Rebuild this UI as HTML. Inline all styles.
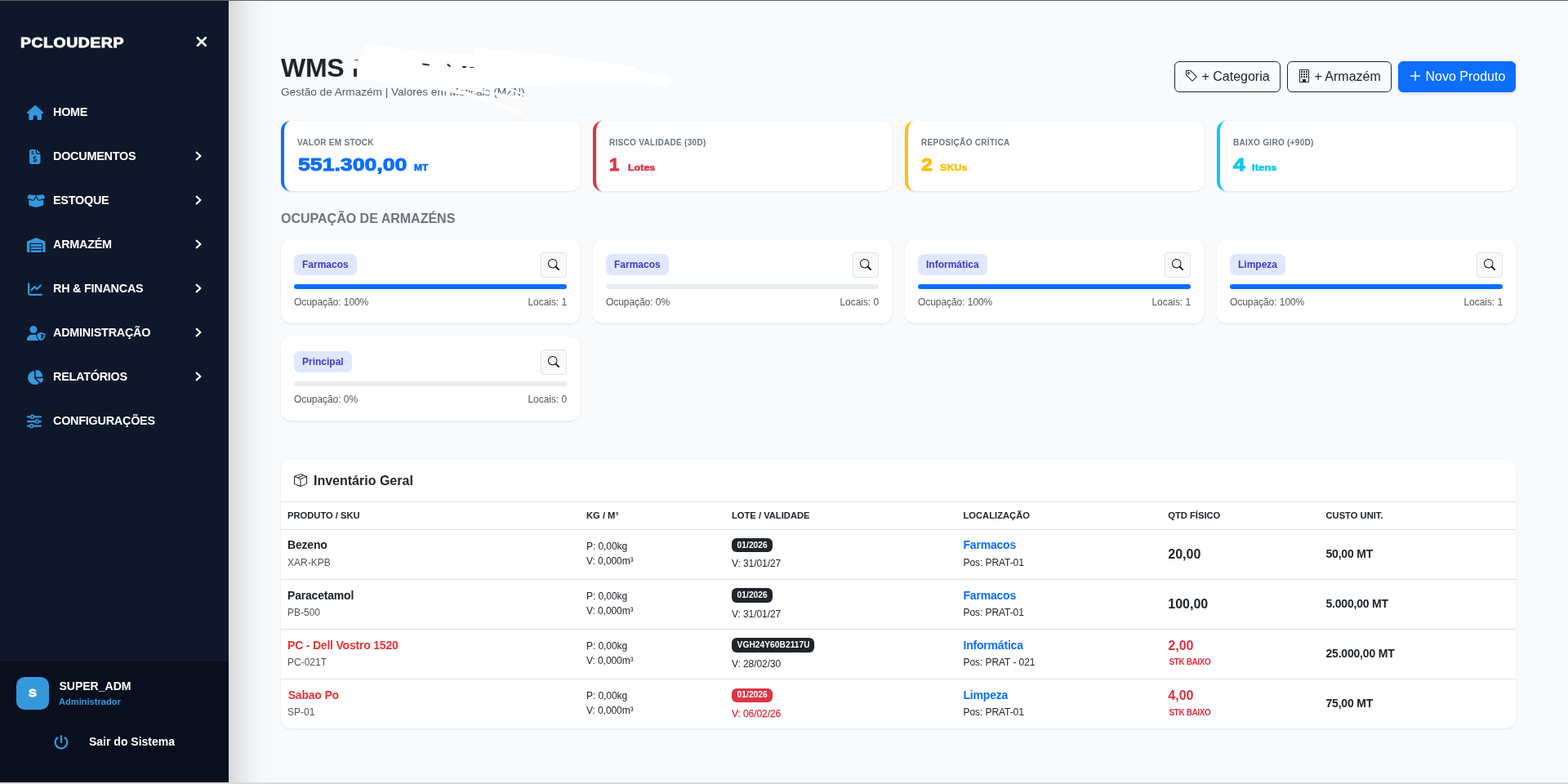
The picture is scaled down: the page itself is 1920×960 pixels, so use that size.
<!DOCTYPE html>
<html lang="pt">
<head>
<meta charset="utf-8">
<title>WMS - Gestão de Armazém</title>
<style>
*{box-sizing:border-box;margin:0;padding:0}
html,body{width:1920px;height:960px;overflow:hidden}
body{font-family:"Liberation Sans",Arial,sans-serif;font-size:16px;color:#212529;background:#f8fafc;position:relative;line-height:1.5}
.a{position:absolute;white-space:nowrap}
.b{font-weight:bold}
.topline{position:absolute;left:0;top:0;width:1920px;height:1px;background:#636363;z-index:50}
.botline{position:absolute;left:0;top:958px;width:1920px;height:2px;background:#d9d9d9;z-index:50}
/* sidebar */
.sidebar{position:absolute;left:0;top:-60px;width:280px;height:1080px;background:#0f172a;box-shadow:10px 0 40px rgba(0,0,0,.19)}
.side{position:absolute;left:0;top:0;width:280px;height:960px;color:#fff}
.brand{left:25px;top:42.4px;font-size:16.8px;font-weight:bold;color:#fff;line-height:22px;letter-spacing:.5px;-webkit-text-stroke:.8px #fff;transform-origin:0 50%;transform:scaleX(1.155)}
.nl{left:65px;font-size:14.4px;font-weight:bold;color:#fff;line-height:20px;letter-spacing:-.24px}
.sfoot{position:absolute;left:0;top:808px;width:280px;height:152px;background:#0a0f1d;border-top:1px solid #171c2a}
.avatar{position:absolute;left:20px;top:829px;width:40px;height:40px;border-radius:10px;background:#3498db}
.avs{left:20px;top:829.3px;width:40px;text-align:center;font-size:13.2px;font-weight:bold;line-height:40px;color:#fff;-webkit-text-stroke:.8px #fff;transform:scaleX(1.12)}
.uname{left:72.5px;top:831px;font-size:14px;font-weight:bold;color:#fff;line-height:18px}
.urole{left:72px;top:852px;font-size:11.1px;font-weight:bold;color:#3498db;line-height:14px}
.logout{left:109px;top:898px;font-size:14px;font-weight:bold;color:#fff;line-height:20px}
/* main */
h1{position:absolute;left:344px;top:64px;font-size:32px;font-weight:bold;line-height:38px;color:#212529;letter-spacing:-.3px}
.sub{left:344px;top:102px;font-size:13.6px;color:#555b61;line-height:21px}
.btn{position:absolute;top:75px;height:38px;border-radius:6px;border:1px solid #212529}
.btn.primary{background:#0d6efd;border-color:#0d6efd;box-shadow:0 2px 5px rgba(0,0,0,.1)}
.bt{top:82px;font-size:16px;line-height:24px;color:#212529}
.card{position:absolute;background:#fff;border-radius:12px;box-shadow:0 1px 3px rgba(0,0,0,.065),0 1px 2px rgba(0,0,0,.035)}
.kpi{top:148px;width:366px;height:86px;border-left:4px solid #0d6efd}
.kt{top:168px;font-size:10px;font-weight:bold;color:#6c757d;line-height:14px;letter-spacing:.3px}
.kv{top:184.9px;font-size:22.4px;font-weight:bold;line-height:34px;-webkit-text-stroke:.9px currentColor;transform-origin:0 50%;transform:scaleX(1.19)}
.ku{top:196.8px;font-size:10.4px;font-weight:bold;line-height:17px;-webkit-text-stroke:.5px currentColor;transform-origin:0 50%;transform:scaleX(1.15)}
.sect{left:344px;top:256px;font-size:16px;font-weight:bold;color:#6c757d;line-height:24px}
.wh{width:366px;height:103px}
.tag{position:absolute;height:25.5px;border-radius:7px;background:#e0e7ff}
.tagt{font-size:12px;font-weight:bold;color:#4338ca;line-height:18px}
.sb{position:absolute;width:32px;height:31px;border:1px solid #dee2e6;border-radius:4px;background:#f8f9fa}
.bar{position:absolute;width:334px;height:6px;border-radius:3px;background:#e9ecef}
.bar.full{background:#0d6efd}
.wt{font-size:12px;color:#555;line-height:18px;letter-spacing:-.06px}
.inv{left:344px;top:563px;width:1512px;height:329px}
.hl{position:absolute;left:344px;width:1512px;height:1px;background:#dee2e6}
.it{left:384px;top:577px;font-size:16px;font-weight:bold;line-height:24px;color:#212529}
.th{top:623px;font-size:11.2px;font-weight:bold;color:#212529;line-height:17px}
.c1{left:352px}.c2{left:718px}.c3{left:896px}.c4{left:1179.5px}.c5{left:1430.3px}.c6{left:1623.5px}
.nm{font-size:14px;font-weight:bold;line-height:20px;color:#212529;letter-spacing:-.2px}
.sku{font-size:12px;color:#555;line-height:18px}
.p{font-size:12px;color:#212529;line-height:18px;letter-spacing:-.07px}
.lot{position:absolute;left:896px;height:17.3px;border-radius:6px;background:#212529}
.lott{color:#fff;font-size:10.2px;font-weight:bold;line-height:17px;letter-spacing:.05px}
.loc{font-size:14px;font-weight:bold;color:#0d6efd;line-height:20px;letter-spacing:-.2px}
.q{font-size:16px;font-weight:bold;line-height:24px;color:#212529}
.stk{font-size:10px;font-weight:bold;color:#de2f40;line-height:12px;letter-spacing:-.42px}
.cost{font-size:14px;font-weight:bold;line-height:20px;color:#212529;letter-spacing:-.2px}
.red{color:#de2f40}
.nm.red{color:#ea3434}
.p.red{-webkit-text-stroke:.25px #de2f40}
</style>
</head>
<body>
<div class="sidebar"></div>
<div class="side">
<div class="a brand" id="brand">PCLOUDERP</div>
<svg class="a" style="left:236px;top:40px;width:22px;height:22px" viewBox="236 40 22 22"><path d="M241.9 46.2 L251.8 55.7 M251.8 46.2 L241.9 55.7" fill="none" stroke="#fff" stroke-width="2.7" stroke-linecap="round"/></svg>
<svg style="position:absolute;left:33.00px;top:129.00px;width:20.25px;height:18.00px;" viewBox="0 0 576 512" preserveAspectRatio="none"><path fill="#3498db" d="M575.8 255.5c0 18-15 32.1-32 32.1h-32l.7 160.2c0 2.700-.2 5.400-.5 8.100V472c0 22.100-17.900 40-40 40H456c-1.100 0-2.200 0-3.300-.1c-1.400 .1-2.800 .1-4.200 .1H416 392c-22.100 0-40-17.900-40-40V448 384c0-17.700-14.300-32-32-32H256c-17.700 0-32 14.300-32 32v64 24c0 22.100-17.900 40-40 40H160 128.100c-1.500 0-3-.1-4.500-.2c-1.200 .1-2.400 .2-3.600 .2H104c-22.100 0-40-17.900-40-40V360c0-.9 0-1.900 .1-2.800V287.600H32c-18 0-32-14-32-32.100c0-9 3-17 10-24L266.400 8c7-7 15-8 22-8s15 2 21 7L564.800 231.500c8 7 12 15 11 24z"/></svg>
<div class="a nl" id="nl0" style="top:127px">HOME</div>
<svg style="position:absolute;left:36.25px;top:183.00px;width:13.50px;height:18.00px;" viewBox="0 0 384 512" preserveAspectRatio="none"><path fill="#3498db" d="M64 0C28.700 0 0 28.700 0 64V448c0 35.300 28.700 64 64 64H320c35.300 0 64-28.700 64-64V160H256c-17.700 0-32-14.300-32-32V0H64zM256 0V128H384L256 0zM64 80c0-8.800 7.200-16 16-16h64c8.800 0 16 7.200 16 16s-7.200 16-16 16H80c-8.800 0-16-7.200-16-16zm0 64c0-8.800 7.200-16 16-16h64c8.800 0 16 7.200 16 16s-7.200 16-16 16H80c-8.800 0-16-7.200-16-16zm128 72c8.800 0 16 7.200 16 16v17.300c8.500 1.200 16.700 3.100 24.100 5.100c8.500 2.300 13.600 11 11.300 19.600s-11 13.600-19.600 11.300c-11.100-3-22-5.200-32.100-5.300c-8.400-.1-17.400 1.800-23.600 5.500c-5.700 3.400-8.100 7.300-8.100 12.800c0 3.700 1.300 6.500 7.300 10.100c6.900 4.100 16.600 7.100 29.200 10.900l.5 .1 0 0 0 0c11.300 3.400 25.300 7.600 36.300 14.600c12.100 7.600 22.400 19.700 22.700 38.200c.3 19.300-9.600 33.300-22.900 41.600c-7.700 4.800-16.400 7.600-25.100 9.100V440c0 8.800-7.200 16-16 16s-16-7.200-16-16V422.200c-11.200-2.100-21.700-5.700-30.900-8.900l0 0c-2.100-.7-4.200-1.400-6.200-2.100c-8.400-2.800-12.900-11.900-10.100-20.200s11.900-12.900 20.200-10.100c2.500 .8 4.800 1.600 7.100 2.400l0 0 0 0 0 0c13.600 4.600 24.600 8.400 36.300 8.700c9.100 .3 17.900-1.700 23.700-5.300c5.100-3.200 7.900-7.300 7.800-14c-.1-4.600-1.800-7.800-7.700-11.600c-6.800-4.300-16.500-7.400-29-11.200l-1.600-.5 0 0c-11-3.300-24.300-7.300-34.800-13.700c-12-7.200-22.600-18.900-22.700-37.300c-.1-19.400 10.800-32.800 23.800-40.500c7.500-4.400 15.800-7.200 24.100-8.700V232c0-8.800 7.200-16 16-16z"/></svg>
<div class="a nl" id="nl1" style="top:181px">DOCUMENTOS</div>
<svg class="a" style="left:236px;top:182.65px;width:14px;height:16px" viewBox="0 0 14 16"><path d="M4.65 3.65 L9.45 8 L4.65 12.35" fill="none" stroke="#fff" stroke-width="2.1" stroke-linecap="round" stroke-linejoin="round"/></svg>
<svg style="position:absolute;left:33.00px;top:237.00px;width:22.50px;height:18.00px;" viewBox="0 0 640 512" preserveAspectRatio="none"><path fill="#3498db" d="M58.900 42.100c3-6.100 9.600-9.600 16.300-8.700L320 64 564.800 33.400c6.700-.8 13.300 2.700 16.300 8.700l41.700 83.400c9 17.900-.6 39.600-19.800 45.100L439.600 217.300c-13.900 4-28.800-1.900-36.200-14.300L320 64 236.600 203c-7.400 12.400-22.300 18.300-36.200 14.300L37.100 170.600c-19.300-5.500-28.800-27.200-19.800-45.100L58.900 42.100zM321.100 128l54.900 91.400c14.900 24.800 44.600 36.600 72.500 28.600L576 211.600v167c0 22-15 41.200-36.400 46.600l-204.100 51c-10.200 2.600-20.900 2.600-31 0l-204.100-51C79 419.700 64 400.500 64 378.500v-167L191.600 248c27.800 8 57.600-3.800 72.500-28.600L318.900 128h2.200z"/></svg>
<div class="a nl" id="nl2" style="top:235px">ESTOQUE</div>
<svg class="a" style="left:236px;top:236.65px;width:14px;height:16px" viewBox="0 0 14 16"><path d="M4.65 3.65 L9.45 8 L4.65 12.35" fill="none" stroke="#fff" stroke-width="2.1" stroke-linecap="round" stroke-linejoin="round"/></svg>
<svg style="position:absolute;left:33.00px;top:291.00px;width:22.50px;height:18.00px;" viewBox="0 0 640 512" preserveAspectRatio="none"><path fill="#3498db" d="M0 488V171.300c0-26.200 15.900-49.700 40.200-59.400L308.100 4.800c7.600-3.100 16.100-3.100 23.800 0L599.800 111.900c24.300 9.700 40.200 33.300 40.200 59.400V488c0 13.300-10.700 24-24 24H568c-13.300 0-24-10.700-24-24V224c0-17.700-14.300-32-32-32H128c-17.700 0-32 14.300-32 32V488c0 13.300-10.700 24-24 24H24c-13.300 0-24-10.700-24-24zm488 24l-336 0c-13.300 0-24-10.700-24-24V432H512l0 56c0 13.300-10.700 24-24 24zM128 400V336H512v64H128zm0-96V224H512l0 80H128z"/></svg>
<div class="a nl" id="nl3" style="top:289px">ARMAZÉM</div>
<svg class="a" style="left:236px;top:290.65px;width:14px;height:16px" viewBox="0 0 14 16"><path d="M4.65 3.65 L9.45 8 L4.65 12.35" fill="none" stroke="#fff" stroke-width="2.1" stroke-linecap="round" stroke-linejoin="round"/></svg>
<svg style="position:absolute;left:34.00px;top:345.00px;width:18.00px;height:18.00px;" viewBox="0 0 512 512" preserveAspectRatio="none"><path fill="#3498db" d="M64 64c0-17.700-14.300-32-32-32S0 46.300 0 64V400c0 44.200 35.800 80 80 80H480c17.700 0 32-14.300 32-32s-14.300-32-32-32H80c-8.800 0-16-7.200-16-16V64zm406.600 86.600c12.500-12.500 12.500-32.800 0-45.300s-32.800-12.500-45.300 0L320 210.700l-57.400-57.400c-12.500-12.500-32.800-12.500-45.300 0l-112 112c-12.500 12.500-12.500 32.800 0 45.300s32.800 12.500 45.300 0L240 221.300l57.400 57.400c12.500 12.500 32.800 12.500 45.300 0l128-128z"/></svg>
<div class="a nl" id="nl4" style="top:343px">RH &amp; FINANCAS</div>
<svg class="a" style="left:236px;top:344.65px;width:14px;height:16px" viewBox="0 0 14 16"><path d="M4.65 3.65 L9.45 8 L4.65 12.35" fill="none" stroke="#fff" stroke-width="2.1" stroke-linecap="round" stroke-linejoin="round"/></svg>
<svg style="position:absolute;left:33.00px;top:399.00px;width:22.50px;height:18.00px;" viewBox="0 0 640 512" preserveAspectRatio="none"><path fill="#3498db" d="M224 256A128 128 0 1 0 224 0a128 128 0 1 0 0 256zm-45.7 48C79.8 304 0 383.8 0 482.3C0 498.700 13.300 512 29.700 512H418.300c1.800 0 3.500-.2 5.300-.5c-76.300-55.100-99.800-141-103.100-200.200c-16.100-4.800-33.100-7.300-50.700-7.300H178.300zm308.800-78.300l-120 48C358 277.400 352 286.200 352 296c0 63.300 25.900 168.800 134.800 214.200c5.900 2.500 12.600 2.500 18.500 0C614.100 464.800 640 359.300 640 296c0-9.800-6-18.600-15.100-22.300l-120-48c-5.700-2.300-12.100-2.300-17.800 0zM591.400 312c-3.900 50.700-27.200 116.700-95.400 149.700V273.800L591.400 312z"/></svg>
<div class="a nl" id="nl5" style="top:397px">ADMINISTRAÇÃO</div>
<svg class="a" style="left:236px;top:398.65px;width:14px;height:16px" viewBox="0 0 14 16"><path d="M4.65 3.65 L9.45 8 L4.65 12.35" fill="none" stroke="#fff" stroke-width="2.1" stroke-linecap="round" stroke-linejoin="round"/></svg>
<svg style="position:absolute;left:33.00px;top:453.00px;width:20.25px;height:18.00px;" viewBox="0 0 576 512" preserveAspectRatio="none"><path fill="#3498db" d="M304 240V16.600c0-9 7-16.600 16-16.600C443.700 0 544 100.300 544 224c0 9-7.600 16-16.600 16H304zM32 272C32 150.700 122.100 50.300 239 34.300c9.200-1.300 17 6.100 17 15.400V288L412.500 444.500c6.700 6.700 6.200 17.700-1.500 23.100C371.800 495.600 323.800 512 272 512C139.500 512 32 404.600 32 272zm526.400 16c9.300 0 16.600 7.800 15.400 17c-7.700 55.900-34.600 105.600-73.900 142.300c-6 5.600-15.400 5.200-21.200-.7L320 288H558.400z"/></svg>
<div class="a nl" id="nl6" style="top:451px">RELATÓRIOS</div>
<svg class="a" style="left:236px;top:452.65px;width:14px;height:16px" viewBox="0 0 14 16"><path d="M4.65 3.65 L9.45 8 L4.65 12.35" fill="none" stroke="#fff" stroke-width="2.1" stroke-linecap="round" stroke-linejoin="round"/></svg>
<svg style="position:absolute;left:33.00px;top:507.40px;width:18.00px;height:18.00px;" viewBox="0 0 512 512" preserveAspectRatio="none"><path fill="#3498db" d="M0 416c0 17.700 14.300 32 32 32l54.700 0c12.300 28.300 40.500 48 73.300 48s61-19.700 73.300-48L480 448c17.700 0 32-14.300 32-32s-14.300-32-32-32l-246.700 0c-12.300-28.300-40.500-48-73.300-48s-61 19.700-73.300 48L32 384c-17.700 0-32 14.300-32 32zm128 0a32 32 0 1 1 64 0 32 32 0 1 1 -64 0zM320 256a32 32 0 1 1 64 0 32 32 0 1 1 -64 0zm32-80c-32.800 0-61 19.700-73.300 48L32 224c-17.700 0-32 14.300-32 32s14.300 32 32 32l246.700 0c12.300 28.300 40.500 48 73.300 48s61-19.700 73.300-48l54.700 0c17.700 0 32-14.300 32-32s-14.300-32-32-32l-54.700 0c-12.300-28.300-40.500-48-73.300-48zM192 128a32 32 0 1 1 0-64 32 32 0 1 1 0 64zm73.300-64C253 35.700 224.800 16 192 16s-61 19.700-73.300 48L32 64C14.300 64 0 78.300 0 96s14.300 32 32 32l86.700 0c12.300 28.300 40.500 48 73.300 48s61-19.700 73.300-48L480 128c17.700 0 32-14.300 32-32s-14.300-32-32-32L265.300 64z"/></svg>
<div class="a nl" id="nl7" style="top:505px">CONFIGURAÇÕES</div>
<div class="sfoot"></div>
<div class="avatar"></div><div class="a avs" id="avs">S</div>
<div class="a uname" id="uname">SUPER_ADM</div>
<div class="a urole" id="urole">Administrador</div>
<svg style="position:absolute;left:66.20px;top:899.90px;width:18.00px;height:18.00px;" viewBox="0 0 512 512" preserveAspectRatio="none"><path fill="#3498db" d="M288 32c0-17.700-14.300-32-32-32s-32 14.300-32 32V256c0 17.700 14.300 32 32 32s32-14.300 32-32V32zM143.500 120.600c13.600-11.300 15.400-31.500 4.100-45.100s-31.500-15.400-45.100-4.100C49.700 115.400 16 181.800 16 256c0 132.500 107.500 240 240 240s240-107.500 240-240c0-74.200-33.800-140.600-86.600-184.600c-13.600-11.300-33.800-9.400-45.100 4.100s-9.400 33.800 4.100 45.100c38.900 32.300 63.500 81 63.500 135.400c0 97.200-78.800 176-176 176s-176-78.800-176-176c0-54.400 24.700-103.100 63.500-135.400z"/></svg>
<div class="a logout" id="logout">Sair do Sistema</div>
</div>
<h1 id="h1">WMS</h1>
<div class="a sub" id="sub">Gestão de Armazém | Valores em Meticais (MZN)</div>
<svg class="a" style="left:420px;top:40px;width:420px;height:110px" viewBox="420 40 420 110"><g fill="none" stroke="#fff" stroke-linecap="round" stroke-linejoin="round"><path stroke-width="13" d="M452 61 L520 70 L640 77 L760 89 L814 100"/><path stroke-width="9" d="M583 63 L680 72 L775 86"/><path stroke-width="5" d="M500 101 L570 114 L638 138"/><path stroke-width="3" d="M560 106 L600 114 L648 121"/><path stroke-width="2.5" d="M612 104 L644 117"/></g><path fill="#fff" d="M438 70 L460 66 L560 72 L700 80 L800 92 L816 100 L800 103 L700 102 L660 105.5 L600 107.3 L500 107 L470 101 L440 97 L438.5 94.5 L439 83 L436 82 L436 74.6 Z M441 70 L431 73 L430 80 L436 82 Z"/></svg>
<div class="a" style="left:433px;top:83.5px;width:4.2px;height:10px;background:#2b2f34;border-radius:0 0 1px 0"></div><div class="a" style="left:433.5px;top:73px;width:5px;height:1.4px;background:#3a3f44;border-radius:1px;transform:rotate(12deg)"></div><div class="a" style="left:517px;top:78px;width:9px;height:1.6px;background:#2a2e33;border-radius:1px;transform:rotate(8deg)"></div><div class="a" style="left:547px;top:78.5px;width:5px;height:2.4px;background:#2b2f34;border-radius:1px;transform:rotate(35deg)"></div><div class="a" style="left:566px;top:81px;width:5px;height:1.6px;background:#212529;border-radius:1px"></div><div class="a" style="left:575px;top:81.5px;width:5px;height:1.4px;background:#2a2e33;border-radius:1px"></div>
<div class="btn" style="left:1438px;width:130px"></div>
<svg style="position:absolute;left:1451.00px;top:85.10px;width:16px;height:16px;overflow:visible" viewBox="0 0 16 16"><path fill="#212529" fill-rule="evenodd" d="M6 4.500a1.500 1.500 0 1 1-3 0 1.500 1.500 0 0 1 3 0zm-1 0a.5.5 0 1 0-1 0 .5.5 0 0 0 1 0z M2 1h4.586a1 1 0 0 1 .707.293l7 7a1 1 0 0 1 0 1.414l-4.586 4.586a1 1 0 0 1-1.414 0l-7-7A1 1 0 0 1 1 6.586V2a1 1 0 0 1 1-1zm0 5.586 7 7L13.586 9l-7-7H2v4.586z"/></svg>
<div class="a bt" id="bt1" style="left:1471.45px">+ Categoria</div>
<div class="btn" style="left:1576px;width:128px"></div>
<svg style="position:absolute;left:1589.00px;top:85.10px;width:16px;height:16px;overflow:visible" viewBox="0 0 16 16"><path fill="#212529" fill-rule="evenodd" d="M4 2.500a.5.5 0 0 1 .5-.5h1a.5.5 0 0 1 .5.5v1a.5.5 0 0 1-.5.5h-1a.5.5 0 0 1-.5-.5v-1Zm3 0a.5.5 0 0 1 .5-.5h1a.5.5 0 0 1 .5.5v1a.5.5 0 0 1-.5.5h-1a.5.5 0 0 1-.5-.5v-1Zm3.500-.5a.5.5 0 0 0-.5.5v1a.5.5 0 0 0 .5.5h1a.5.5 0 0 0 .5-.5v-1a.5.5 0 0 0-.5-.5h-1ZM4 5.500a.5.5 0 0 1 .5-.5h1a.5.5 0 0 1 .5.5v1a.5.5 0 0 1-.5.5h-1a.5.5 0 0 1-.5-.5v-1ZM7.500 5a.5.5 0 0 0-.5.5v1a.5.5 0 0 0 .5.5h1a.5.5 0 0 0 .5-.5v-1a.5.5 0 0 0-.5-.5h-1Zm2.500.5a.5.5 0 0 1 .5-.5h1a.5.5 0 0 1 .5.5v1a.5.5 0 0 1-.5.5h-1a.5.5 0 0 1-.5-.5v-1ZM4.500 8a.5.5 0 0 0-.5.5v1a.5.5 0 0 0 .5.5h1a.5.5 0 0 0 .5-.5v-1a.5.5 0 0 0-.5-.5h-1Zm2.500.5a.5.5 0 0 1 .5-.5h1a.5.5 0 0 1 .5.5v1a.5.5 0 0 1-.5.5h-1a.5.5 0 0 1-.5-.5v-1Zm3.500-.5a.5.5 0 0 0-.5.5v1a.5.5 0 0 0 .5.5h1a.5.5 0 0 0 .5-.5v-1a.5.5 0 0 0-.5-.5h-1Z M2 1a1 1 0 0 1 1-1h10a1 1 0 0 1 1 1v14a1 1 0 0 1-1 1H3a1 1 0 0 1-1-1V1Zm11 0H3v14h3v-2.500a.5.5 0 0 1 .5-.5h3a.5.5 0 0 1 .5.5V15h3V1Z"/></svg>
<div class="a bt" id="bt2" style="left:1609.45px">+ Armazém</div>
<div class="btn primary" style="left:1712px;width:144px"></div>
<svg style="position:absolute;left:1725.00px;top:85.10px;width:16px;height:16px;overflow:visible" viewBox="0 0 16 16"><path fill="#fff" fill-rule="evenodd" stroke="#fff" stroke-width="0.45" d="M8 2a.5.5 0 0 1 .5.5v5h5a.5.5 0 0 1 0 1h-5v5a.5.5 0 0 1-1 0v-5h-5a.5.5 0 0 1 0-1h5v-5A.5.5 0 0 1 8 2Z"/></svg>
<div class="a bt" id="bt3" style="left:1745.45px;color:#fff">Novo Produto</div>
<div class="card kpi" style="left:344px;border-color:#0d6efd"></div>
<div class="a kt" id="kt0" style="left:364px">VALOR EM STOCK</div>
<div class="a kv" id="kv0" style="left:364.9px;color:#0d6efd;transform:scaleX(1.19)">551.300,00</div>
<div class="a ku" id="ku0" style="left:506.6px;color:#0d6efd;transform:scaleX(1.15)">MT</div>
<div class="card kpi" style="left:726px;border-color:#dc3545"></div>
<div class="a kt" id="kt1" style="left:746px">RISCO VALIDADE (30D)</div>
<div class="a kv" id="kv1" style="left:746.2px;color:#dc3545;transform:scaleX(.98)">1</div>
<div class="a ku" id="ku1" style="left:768.7px;color:#dc3545;transform:scaleX(1.2)">Lotes</div>
<div class="card kpi" style="left:1108px;border-color:#ffc107"></div>
<div class="a kt" id="kt2" style="left:1128px">REPOSIÇÃO CRÍTICA</div>
<div class="a kv" id="kv2" style="left:1128.2px;color:#ffc107;transform:scaleX(1.12)">2</div>
<div class="a ku" id="ku2" style="left:1150.7px;color:#ffc107;transform:scaleX(1.21)">SKUs</div>
<div class="card kpi" style="left:1490px;border-color:#0dcaf0"></div>
<div class="a kt" id="kt3" style="left:1510px">BAIXO GIRO (+90D)</div>
<div class="a kv" id="kv3" style="left:1510.2px;color:#0dcaf0;transform:scaleX(1.17)">4</div>
<div class="a ku" id="ku3" style="left:1533.2px;color:#0dcaf0;transform:scaleX(1.26)">Itens</div>
<div class="a sect" id="sect">OCUPAÇÃO DE ARMAZÉNS</div>
<div class="card wh" style="left:344px;top:293px"></div>
<div class="tag" style="left:360px;top:311px;width:77px"></div>
<div class="a tagt" id="tag0" style="left:370px;top:315px">Farmacos</div>
<div class="sb" style="left:662px;top:309px"></div>
<svg style="position:absolute;left:671.00px;top:317.00px;width:14px;height:14px;overflow:visible" viewBox="0 0 16 16"><path fill="#000" fill-rule="evenodd" d="M11.742 10.344a6.500 6.500 0 1 0-1.397 1.398h-.001c.03.04.062.078.098.115l3.850 3.850a1 1 0 0 0 1.415-1.414l-3.850-3.850a1.007 1.007 0 0 0-.115-.1zM12 6.500a5.500 5.500 0 1 1-11 0 5.500 5.500 0 0 1 11 0z"/></svg>
<div class="bar full" style="left:360px;top:348px"></div>
<div class="a wt" id="wl0" style="left:360px;top:361px">Ocupação: 100%</div>
<div class="a wt" id="wr0" style="right:1226px;top:361px">Locais: 1</div>
<div class="card wh" style="left:726px;top:293px"></div>
<div class="tag" style="left:742px;top:311px;width:77px"></div>
<div class="a tagt" id="tag1" style="left:752px;top:315px">Farmacos</div>
<div class="sb" style="left:1044px;top:309px"></div>
<svg style="position:absolute;left:1053.00px;top:317.00px;width:14px;height:14px;overflow:visible" viewBox="0 0 16 16"><path fill="#000" fill-rule="evenodd" d="M11.742 10.344a6.500 6.500 0 1 0-1.397 1.398h-.001c.03.04.062.078.098.115l3.850 3.850a1 1 0 0 0 1.415-1.414l-3.850-3.850a1.007 1.007 0 0 0-.115-.1zM12 6.500a5.500 5.500 0 1 1-11 0 5.500 5.500 0 0 1 11 0z"/></svg>
<div class="bar" style="left:742px;top:348px"></div>
<div class="a wt" id="wl1" style="left:742px;top:361px">Ocupação: 0%</div>
<div class="a wt" id="wr1" style="right:844px;top:361px">Locais: 0</div>
<div class="card wh" style="left:1108px;top:293px"></div>
<div class="tag" style="left:1124px;top:311px;width:85px"></div>
<div class="a tagt" id="tag2" style="left:1134px;top:315px">Informática</div>
<div class="sb" style="left:1426px;top:309px"></div>
<svg style="position:absolute;left:1435.00px;top:317.00px;width:14px;height:14px;overflow:visible" viewBox="0 0 16 16"><path fill="#000" fill-rule="evenodd" d="M11.742 10.344a6.500 6.500 0 1 0-1.397 1.398h-.001c.03.04.062.078.098.115l3.850 3.850a1 1 0 0 0 1.415-1.414l-3.850-3.850a1.007 1.007 0 0 0-.115-.1zM12 6.500a5.500 5.500 0 1 1-11 0 5.500 5.500 0 0 1 11 0z"/></svg>
<div class="bar full" style="left:1124px;top:348px"></div>
<div class="a wt" id="wl2" style="left:1124px;top:361px">Ocupação: 100%</div>
<div class="a wt" id="wr2" style="right:462px;top:361px">Locais: 1</div>
<div class="card wh" style="left:1490px;top:293px"></div>
<div class="tag" style="left:1506px;top:311px;width:68px"></div>
<div class="a tagt" id="tag3" style="left:1516px;top:315px">Limpeza</div>
<div class="sb" style="left:1808px;top:309px"></div>
<svg style="position:absolute;left:1817.00px;top:317.00px;width:14px;height:14px;overflow:visible" viewBox="0 0 16 16"><path fill="#000" fill-rule="evenodd" d="M11.742 10.344a6.500 6.500 0 1 0-1.397 1.398h-.001c.03.04.062.078.098.115l3.850 3.850a1 1 0 0 0 1.415-1.414l-3.850-3.850a1.007 1.007 0 0 0-.115-.1zM12 6.500a5.500 5.500 0 1 1-11 0 5.500 5.500 0 0 1 11 0z"/></svg>
<div class="bar full" style="left:1506px;top:348px"></div>
<div class="a wt" id="wl3" style="left:1506px;top:361px">Ocupação: 100%</div>
<div class="a wt" id="wr3" style="right:80px;top:361px">Locais: 1</div>
<div class="card wh" style="left:344px;top:412px"></div>
<div class="tag" style="left:360px;top:430px;width:71px"></div>
<div class="a tagt" id="tag4" style="left:370px;top:434px">Principal</div>
<div class="sb" style="left:662px;top:428px"></div>
<svg style="position:absolute;left:671.00px;top:436.00px;width:14px;height:14px;overflow:visible" viewBox="0 0 16 16"><path fill="#000" fill-rule="evenodd" d="M11.742 10.344a6.500 6.500 0 1 0-1.397 1.398h-.001c.03.04.062.078.098.115l3.850 3.850a1 1 0 0 0 1.415-1.414l-3.850-3.850a1.007 1.007 0 0 0-.115-.1zM12 6.500a5.500 5.500 0 1 1-11 0 5.500 5.500 0 0 1 11 0z"/></svg>
<div class="bar" style="left:360px;top:467px"></div>
<div class="a wt" id="wl4" style="left:360px;top:480px">Ocupação: 0%</div>
<div class="a wt" id="wr4" style="right:1226px;top:480px">Locais: 0</div>
<div class="card inv"></div>
<svg style="position:absolute;left:360.00px;top:580.00px;width:16px;height:16px;overflow:visible" viewBox="0 0 16 16"><path fill="#212529" fill-rule="evenodd" d="M8.186 1.113a.5.5 0 0 0-.372 0L1.846 3.500l2.404.961L10.404 2l-2.218-.887zm3.564 1.426L5.596 5 8 5.961 14.154 3.500l-2.404-.961zm3.250 1.700-6.500 2.600v7.922l6.500-2.600V4.240zM7.500 14.762V6.838L1 4.239v7.923l6.500 2.600zM7.443.184a1.500 1.500 0 0 1 1.114 0l7.129 2.852A.5.5 0 0 1 16 3.500v8.662a1 1 0 0 1-.629.928l-7.185 2.874a.5.5 0 0 1-.372 0L.63 13.090a1 1 0 0 1-.630-.928V3.500a.5.5 0 0 1 .314-.464L7.443.184z"/></svg>
<div class="a it" id="it">Inventário Geral</div>
<div class="hl" style="top:614px"></div>
<div class="a th c1" id="th0">PRODUTO / SKU</div>
<div class="a th c2" id="th1">KG / M³</div>
<div class="a th c3" id="th2">LOTE / VALIDADE</div>
<div class="a th c4" id="th3">LOCALIZAÇÃO</div>
<div class="a th c5" id="th4">QTD FÍSICO</div>
<div class="a th c6" id="th5">CUSTO UNIT.</div>
<div class="hl" style="top:648px"></div>
<div class="a nm c1" id="nm0" style="top:657px">Bezeno</div>
<div class="a sku c1" id="sku0" style="top:680px">XAR-KPB</div>
<div class="a p c2" id="p0" style="top:660px">P: 0,00kg</div>
<div class="a p c2" id="v0" style="top:678px">V: 0,000m³</div>
<div class="lot" style="top:659.0px;height:17px;width:49.8px"></div>
<div class="a lott" id="lot0" style="left:902.6px;top:659.0px">01/2026</div>
<div class="a p c3" id="val0" style="top:681px">V: 31/01/27</div>
<div class="a loc c4" id="loc0" style="top:657px">Farmacos</div>
<div class="a p c4" id="pos0" style="top:680px">Pos: PRAT-01</div>
<div class="a q c5" id="q0" style="top:667px">20,00</div>
<div class="a cost c6" id="cost0" style="top:668px">50,00 MT</div>
<div class="hl" style="top:709px"></div>
<div class="a nm c1" id="nm1" style="top:719px">Paracetamol</div>
<div class="a sku c1" id="sku1" style="top:741px">PB-500</div>
<div class="a p c2" id="p1" style="top:721px">P: 0,00kg</div>
<div class="a p c2" id="v1" style="top:739px">V: 0,000m³</div>
<div class="lot" style="top:720.0px;height:18px;width:49.8px"></div>
<div class="a lott" id="lot1" style="left:902.6px;top:720.0px">01/2026</div>
<div class="a p c3" id="val1" style="top:743px">V: 31/01/27</div>
<div class="a loc c4" id="loc1" style="top:719px">Farmacos</div>
<div class="a p c4" id="pos1" style="top:741px">Pos: PRAT-01</div>
<div class="a q c5" id="q1" style="top:728px">100,00</div>
<div class="a cost c6" id="cost1" style="top:729px">5.000,00 MT</div>
<div class="hl" style="top:770px"></div>
<div class="a nm c1 red" id="nm2" style="top:780px">PC - Dell Vostro 1520</div>
<div class="a sku c1" id="sku2" style="top:802px">PC-021T</div>
<div class="a p c2" id="p2" style="top:782px">P: 0,00kg</div>
<div class="a p c2" id="v2" style="top:800px">V: 0,000m³</div>
<div class="lot" style="top:781.0px;height:18px;width:101.0px"></div>
<div class="a lott" id="lot2" style="left:902.6px;top:781.0px">VGH24Y60B2117U</div>
<div class="a p c3" id="val2" style="top:804px">V: 28/02/30</div>
<div class="a loc c4" id="loc2" style="top:780px">Informática</div>
<div class="a p c4" id="pos2" style="top:802px">Pos: PRAT - 021</div>
<div class="a q c5 red" id="q2" style="top:779px">2,00</div>
<div class="a stk" id="stk2" style="left:1431.6px;top:805px">STK BAIXO</div>
<div class="a cost c6" id="cost2" style="top:790px">25.000,00 MT</div>
<div class="hl" style="top:831px"></div>
<div class="a nm c1 red" id="nm3" style="top:841px;left:352.7px">Sabao Po</div>
<div class="a sku c1" id="sku3" style="top:863px">SP-01</div>
<div class="a p c2" id="p3" style="top:843px">P: 0,00kg</div>
<div class="a p c2" id="v3" style="top:861px">V: 0,000m³</div>
<div class="lot" style="top:843.0px;height:17px;width:49.8px;background:#dc3545"></div>
<div class="a lott" id="lot3" style="left:902.6px;top:842.0px">01/2026</div>
<div class="a p c3 red" id="val3" style="top:865px">V: 06/02/26</div>
<div class="a loc c4" id="loc3" style="top:841px">Limpeza</div>
<div class="a p c4" id="pos3" style="top:863px">Pos: PRAT-01</div>
<div class="a q c5 red" id="q3" style="top:840px">4,00</div>
<div class="a stk" id="stk3" style="left:1431.6px;top:867px">STK BAIXO</div>
<div class="a cost c6" id="cost3" style="top:851px">75,00 MT</div>
<div class="topline"></div>
<div class="botline"></div>
</body>
</html>
